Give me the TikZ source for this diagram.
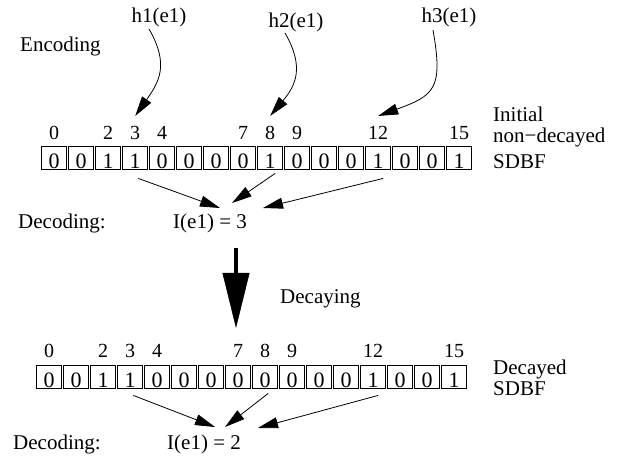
\documentclass[tikz,border=0pt]{standalone}
\usepackage{fontspec}
\setmainfont{Liberation Serif}
\usetikzlibrary{arrows.meta,positioning}

\begin{document}
\begin{tikzpicture}[
    x=1bp, y=1bp,
    >={Triangle[length=20bp,width=11bp]},
    font=\fontsize{21bp}{20bp}\selectfont,
    cell/.style={
		rectangle,
		draw=black,
		line width=0.8bp,
		inner sep=0pt,
		minimum width=25bp,
		minimum height=23bp,
		text height=22bp,
		text depth=0pt,
		font=\fontsize{22bp}{22bp}\selectfont
	},
	idx/.style={
		inner sep=0pt,
		text depth=0pt,
		font=\fontsize{20bp}{20bp}\selectfont
	},
	txt/.style={
		inner sep=0pt,
		anchor=base west
	},
	hash/.style={
		->,
		line width=0.8bp,
		looseness=1.2
	},
	decode/.style={
		->,
		line width=0.8bp
	},
	decay/.style={
		-{Triangle[length=55bp,width=27bp,line width=0.5bp]},
		line width=4bp
	}
  ]

\useasboundingbox (0,0) rectangle (618,-456);

% // Encoding
\node [txt] (enc) at (20,-52) {Encoding};
\node [txt, anchor=base] (h1) at (159,-23) {h1(e1)};
\node [txt, anchor=base] (h2) at (296,-28) {h2(e1)};
\node [txt, anchor=base] (h3) at (449,-23) {h3(e1)};

% initial filter
\foreach \b [count=\i from 0] in {0,0,1,1,0,0,0,0,1,0,0,0,1,0,0,1}
  \node [cell] (t\i) at (54.2+27*\i,-157.5) {\b};
\foreach \i in {0,2,3,4,7,8,9,12,15}
  \node [idx, above=6bp of t\i] (ti\i) {\i};

\node [txt] (initial) at (493,-122)
 {%
 \begin{tabular}[t]{@{}l@{}}
  Initial\\
  non−decayed\\[6bp]
  SDBF
 \end{tabular}
 };

 \draw [hash] ([shift={(-10,-6)}]h1.base) to [out=-60,in=55] ([yshift=10bp]ti3.north);
 \draw [hash] ([shift={(-11,-5)}]h2.base) to [out=-60,in=50] ([yshift=10bp]ti8.north);
 \draw [hash, looseness=1.5] ([shift={(-16,-7)}]h3.base) to [out=-80,in=20] ([yshift=10bp]ti12.north);

% decoding of the initial filter
\node [txt] (decl1) at (18,-229) {Decoding:};
\node [txt] (dec1) at (173,-229) {I(e1) = 3};

 \draw [decode] ([shift={(3,-9)}]t3.south) -- ([shift={(10,21)}]dec1.base);
 \draw [decode] ([shift={(5,-4)}]t8.south) -- ([shift={(22,26)}]dec1.base);
 \draw [decode] ([shift={(5,-9)}]t12.south) -- ([shift={(53,21)}]dec1.base);

% // Decaying
\coordinate (decaystart) at (236,-248);
\coordinate (decayend) at (236,-328);
\draw [decay] (decaystart) -- (decayend);
\node [txt] (decaying) at (280,-304) {Decaying};

% decayed filter
\foreach \b [count=\i from 0] in {0,0,1,1,0,0,0,0,0,0,0,0,1,0,0,1}
  \node [cell] (b\i) at (49.2+27*\i,-376.5) {\b};
\foreach \i in {0,2,3,4,7,8,9,12,15}
  \node [idx, above=6.5bp of b\i] (bi\i) {\i};

\node [txt] (decayed) at (493,-374)
 {%
 \begin{tabular}[t]{@{}l@{}}
  Decayed\\[1bp]
  SDBF
 \end{tabular}
 };

% decoding of the decayed filter
\node [txt] (decl2) at (13,-449) {Decoding:};
\node [txt] (dec2) at (167,-449) {I(e1) = 2};

 \draw [decode] ([shift={(3,-7)}]b3.south) -- ([shift={(11,22)}]dec2.base);
 \draw [decode] ([shift={(3,-5)}]b8.south) -- ([shift={(21,22)}]dec2.base);
 \draw [decode] ([shift={(5,-7)}]b12.south) -- ([shift={(54,21)}]dec2.base);

\end{tikzpicture}
\end{document}
